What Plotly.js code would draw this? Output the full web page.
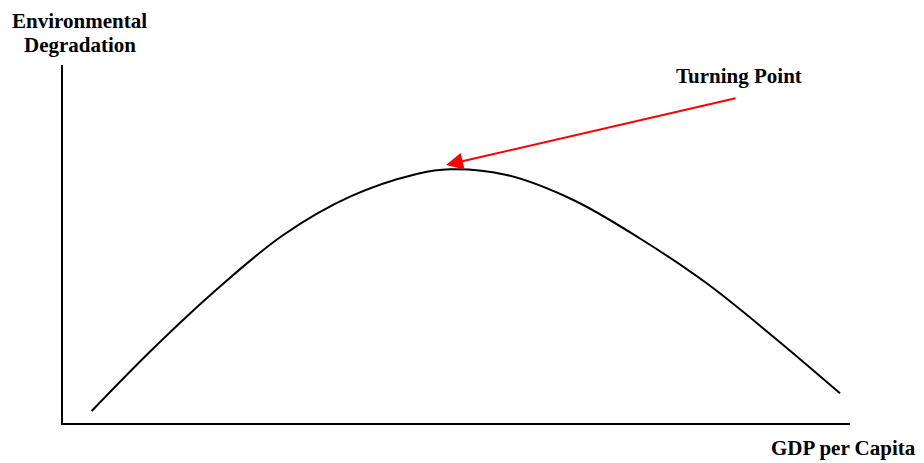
<!DOCTYPE html>
<html>
<head>
<meta charset="utf-8">
<script src="https://cdn.plot.ly/plotly-3.0.1.min.js"></script>
<style>html,body{margin:0;padding:0;background:#fff;}#chart{width:924px;height:463px;}</style>
</head>
<body>
<div id="chart"></div>
<script>
// Environmental Kuznets Curve (arbitrary units)
const gdpPerCapita = [28.7, 88.7, 155.3, 220.3, 287, 353.7, 387, 443.7, 510.3, 577, 643.7, 710.3, 777];
const degradation  = [12, 73, 135, 188, 226.3, 249, 253.7, 248, 223, 184.5, 139.7, 86.3, 29.7];
const turningPoint = {x: 383, y: 258};
const arrowTail = {x: 674, y: 325};
const labels = {
  yTitle1: "Environmental",
  yTitle2: "Degradation",
  xTitle: "GDP per Capita",
  turning: "Turning Point"
};

const serif = "Liberation Serif, Times New Roman, serif";
const fs = 21;

const trace = {
  x: gdpPerCapita, y: degradation,
  type: "scatter", mode: "lines",
  line: {color: "#000", width: 2, shape: "spline", smoothing: 1.0},
  hoverinfo: "skip"
};

const layout = {
  width: 924, height: 463,
  margin: {l: 63, r: 74, t: 65, b: 40},
  paper_bgcolor: "#fff", plot_bgcolor: "#fff",
  showlegend: false,
  xaxis: {range: [0, 787], showline: true, linecolor: "#000", linewidth: 2,
          showgrid: false, zeroline: false, showticklabels: false, ticks: ""},
  yaxis: {range: [0, 358], showline: true, linecolor: "#000", linewidth: 2,
          showgrid: false, zeroline: false, showticklabels: false, ticks: ""},
  annotations: [
    {xref: "x", yref: "y", x: turningPoint.x, y: turningPoint.y,
     axref: "x", ayref: "y", ax: arrowTail.x, ay: arrowTail.y,
     text: "", showarrow: true, arrowcolor: "#ff0000", arrowwidth: 2,
     arrowhead: 2, arrowsize: 1.7},
    {xref: "paper", yref: "paper", x: 0.8587, y: 0.970, text: "<b>" + labels.turning + "</b>",
     showarrow: false, xanchor: "center", yanchor: "middle",
     font: {family: serif, size: fs, color: "#000"}},
    {xref: "paper", yref: "paper", x: 0.0216, y: (423 - 21) / 358, text: "<b>" + labels.yTitle1 + "</b>",
     showarrow: false, xanchor: "center", yanchor: "middle",
     font: {family: serif, size: fs, color: "#000"}},
    {xref: "paper", yref: "paper", x: 0.0216, y: (423 - 45) / 358, text: "<b>" + labels.yTitle2 + "</b>",
     showarrow: false, xanchor: "center", yanchor: "middle",
     font: {family: serif, size: fs, color: "#000"}},
    {xref: "paper", yref: "paper", x: (843 - 63) / 787, y: -39 / 358, text: "<b>" + labels.xTitle + "</b>",
     showarrow: false, xanchor: "center", yanchor: "bottom",
     font: {family: serif, size: fs, color: "#000"}}
  ]
};

Plotly.newPlot("chart", [trace], layout, {staticPlot: true, displayModeBar: false});
</script>
</body>
</html>
